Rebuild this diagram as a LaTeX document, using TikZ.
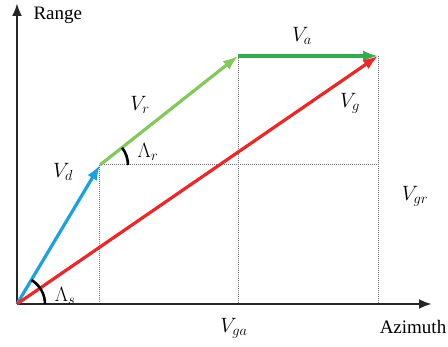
\documentclass[tikz,border=0pt]{standalone}
\usepackage{fontspec}
\setmainfont{Liberation Serif}
\usepackage{xcolor}
\usepackage{tikz}
\usetikzlibrary{arrows.meta}

\definecolor{dvblue}{RGB}{27,160,225}
\definecolor{rvgreen}{RGB}{130,200,90}
\definecolor{avgreen}{RGB}{55,170,80}
\definecolor{gvred}{RGB}{235,40,40}

\begin{document}
\begin{tikzpicture}[
  x=1pt, y=1pt,
  every node/.style={font=\fontsize{19}{22}\selectfont},
  lbl/.style={font=\fontsize{21}{24}\selectfont},
  axis/.style={draw=black!85, line width=2.8pt},
  vec/.style={line width=3.2pt, -{Latex[length=15pt, width=11pt]}},
  guide/.style={draw=black!55, densely dotted, line width=1pt},
  ang/.style={draw=black, line width=2.6pt},
  >=Latex
]
\useasboundingbox (-17,-43) rectangle (431,304);

% points of the triangle
\coordinate (O) at (0,0);
\coordinate (D) at (83,139);
\coordinate (R) at (221,248);
\coordinate (A) at (361,248);
\coordinate (rangeend) at (0,301);
\coordinate (azend) at (415,0);

% guide lines
\draw[guide] (D) -- (D |- O);
\draw[guide] (D) -- (D -| A);
\draw[guide] (R) -- (R |- O);
\draw[guide] (A) -- (A |- O);

% axes
\draw[axis, -{Latex[length=13pt, width=10pt]}] (O) -- (rangeend);
\draw[axis, -{Latex[length=13pt, width=10pt]}] (O) -- (azend);
\node[anchor=west] (range) at (13,289) {Range};
\node (azimuth) at (396,-23) {Azimuth};

% velocity vectors
\draw[vec, dvblue] (O) -- (D);
\draw[vec, rvgreen] (D) -- (R);
\draw[vec, avgreen] (R) -- (A);
\draw[vec, gvred] (O) -- (A);

% angles
\draw[ang] ([shift={(0:28)}]O) arc (0:59:28);
\draw[ang] ([shift={(0:28)}]D) arc (0:38:28);

% labels
\node[lbl] (vd) at (46,132) {$V_d$};
\node[lbl] (vr) at (123,199) {$V_r$};
\node[lbl] (va) at (285,268) {$V_a$};
\node[lbl] (vg) at (333,201) {$V_g$};
\node[lbl] (vgr) at (398,108) {$V_{gr}$};
\node[lbl] (vga) at (217,-24) {$V_{ga}$};
\node[lbl] (lr) at (131,152) {$\Lambda_r$};
\node[lbl] (ls) at (48,8) {$\Lambda_s$};
\end{tikzpicture}
\end{document}
